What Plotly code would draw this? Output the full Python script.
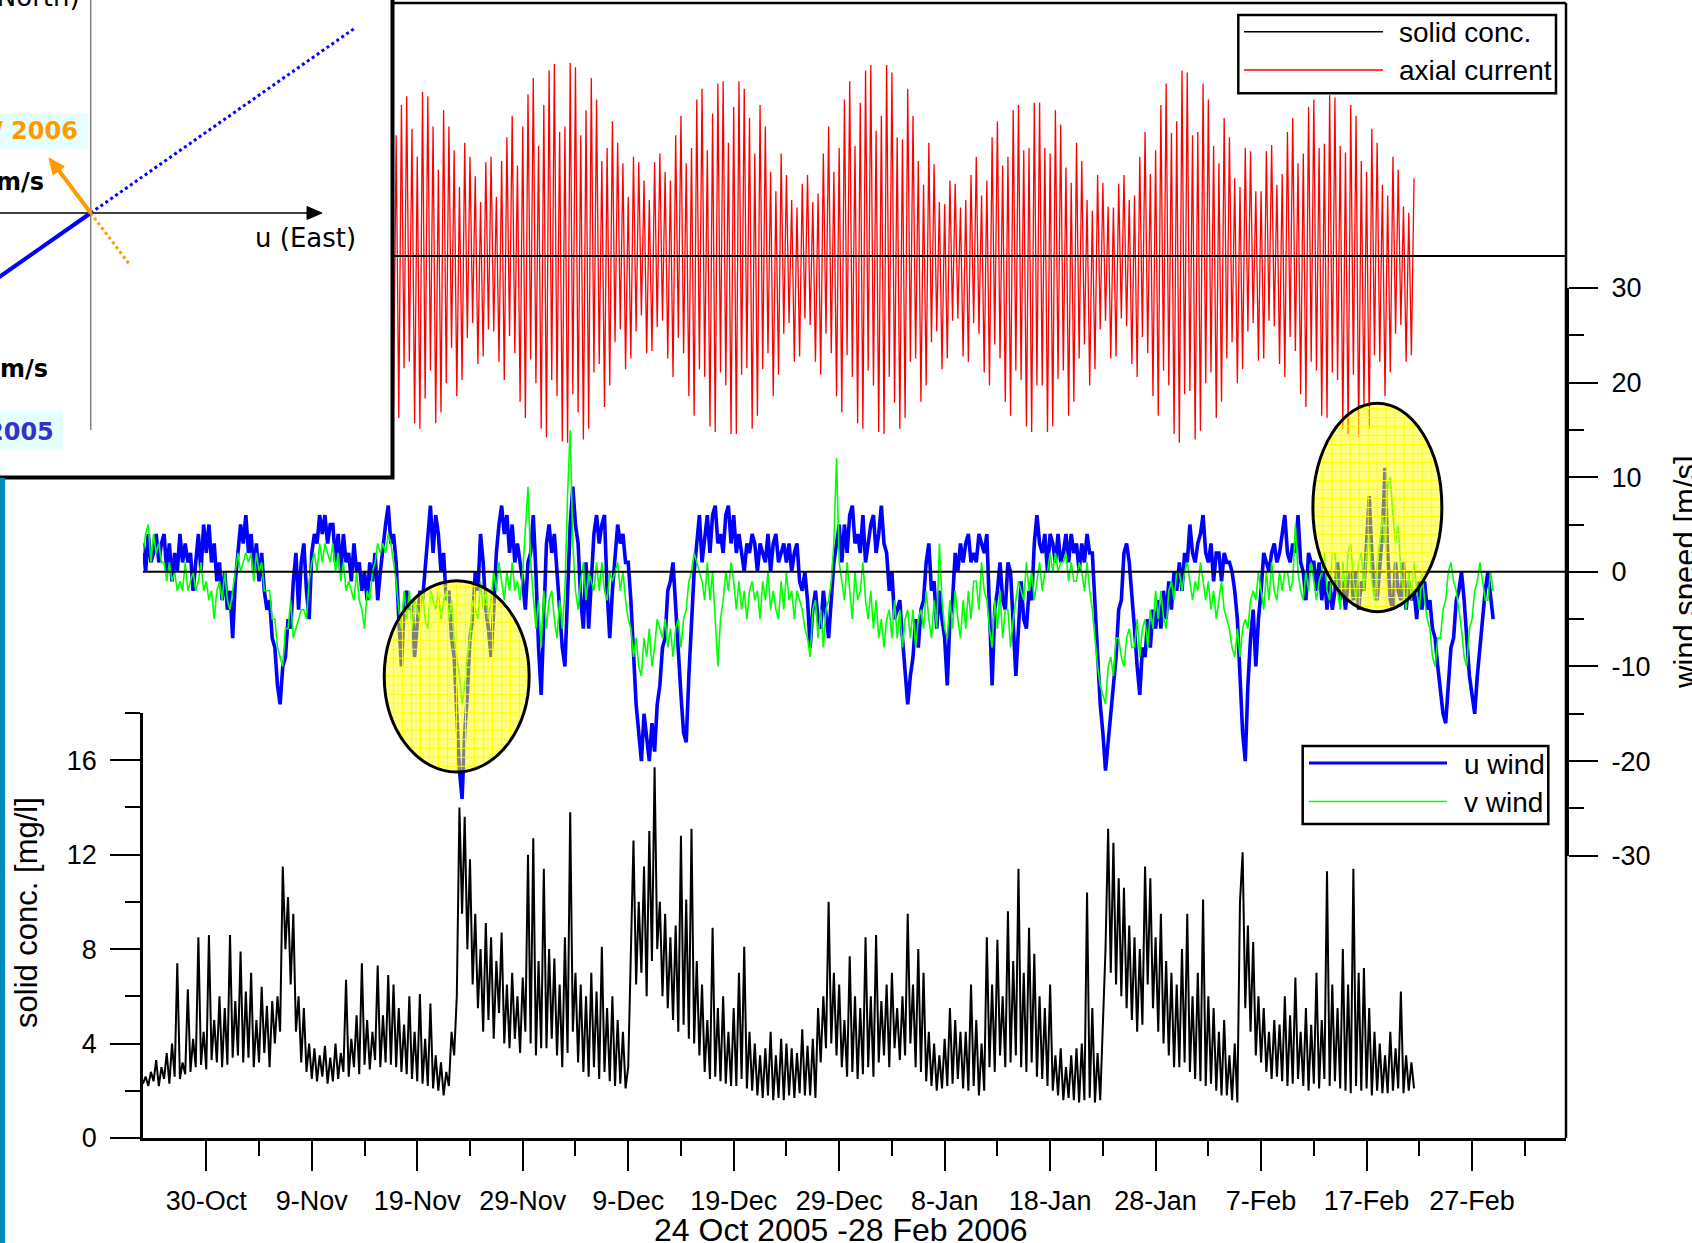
import math
import plotly.graph_objects as go
import pandas as pd

# ---------------- data (6-hourly samples) ----------------
START = "2005-10-24 00:00"
AXIAL_START = "2005-11-16 00:00"
STEP = "6h"

u_wind = [
 3,0,4,1, 2,4,1,3, 4,0,3,-1, 2,0,4,1, 3,1,2,-2, 1,4,0,5, 2,5,1,3, -1,1,-3,0,
 -4,-2,-7,-1, 2,5,3,6, 2,4,0,3, -1,2,-2,-4, -3,-7,-8,-12, -14,-10,-9,-5, -6,-1,2,-4, 1,3,-2,-5,
 2,4,3,6, 4,6,3,5, 5,1,4,0, 4,1,2,-1, 3,0,1,-2, 0,-3,1,-1, 2,-3,0,3, 5,7,3,4,
 1,-5,-10,-4, -2,-4,-3,-9, -5,-2,-3,0, 3,7,2,6, 4,0,2,-3, -2,-7,-9,-16, -21,-24,-17,-13, -7,-5,0,-2,
 4,1,-4,-6, -9,-4,2,5, 7,4,6,2, 5,1,3,1, -1,-4,1,2, 6,0,-8,-13, -4,3,5,2, 4,0,-4,-8,
 -10,-2,5,9, 5,3,-3,-6, 1,-6,-1,4, 6,3,5,6, -2,-7,-2,2, 5,3,4,1, 1,-3,-9,-14, -17,-20,-15,-18,
 -20,-16,-19,-14, -12,-8,-7,-2, -1,1,-4,-9, -13,-17,-18,-11, -6,0,3,6, 1,4,6,2, 6,7,3,4, 2,6,7,3,
 6,2,4,2, 0,3,2,4, 3,0,3,2, 1,4,0,3, 4,1,2,3, 1,3,0,2, 3,-1,-2,0, -3,-8,-4,-2,
 -5,-6,-2,-5, -7,-3,1,3, 5,1,5,2, 6,7,3,4, 2,6,1,3, 5,6,2,4, 7,3,2,-2, 0,-5,-4,-3,
 -7,-10,-14,-11, -9,-5,-8,-4, -3,1,3,-2, -1,-6,-2,-5, -7,-12,-5,-3, 2,0,3,1, 3,4,1,2, 1,4,3,2,
 4,-3,-12,-4, -2,1,-3,-4, 1,0,-5,-11, -6,-1,-5,-6, -2,-3,3,6, 3,2,4,0, 4,3,1,4, 1,2,4,1,
 4,2,3,0, 3,1,4,2, 2,-3,-8,-14, -17,-21,-18,-15, -11,-9,-4,-3, 2,3,1,-2, -6,-10,-13,-8, -9,-5,-8,-4,
 -6,-3,-6,-2, -5,-1,-4,0, -2,1,-2,2, 1,5,2,1, 3,4,6,2, 1,3,-1,2, 2,-1,2,1, 1,0,-2,-5,
 -11,-17,-20,-12, -7,-4,-10,-5, -2,2,1,0, 2,3,1,2, 4,6,2,1, 3,2,6,1, 0,-3,2,1, 1,-2,1,-3,
 0,-4,-1,-4, -2,1,-3,-1, -4,-1,0,-3, 0,-4,-1,-2, 3,8,2,-2, -3,1,4,11, 2,-3,-4,1, -2,-3,1,-4,
 -1,-3,-2,-5, -1,-4,-1,-4, -3,-6,-7,-10, -13,-15,-16,-12, -8,-7,-3,-2, 0,-3,-7,-11, -13,-15,-11,-8, -4,-2,0,-3,
 -5,
]

v_wind = [
 2,4,5,1, 4,2,3,1, 1,-1,1,-1, 0,-2,-1,-2, 1,-2,-1,0, -2,-1,1,-2, -1,-3,-2,-5, -2,-1,-3,0,
 -3,-4,-2,0, 2,0,1,2, 1,2,-1,2, 0,1,-2,-2, -2,-5,-5,-8, -9,-10,-6,-6, -3,-7,-6,-5, -4,-4,-5,-1,
 1,2,0,3, 1,3,2,1, 3,0,2,-1, 1,-2,-1,-2, -3,0,-3,-4, -6,-2,-3,0, 1,3,2,3, 2,4,3,1,
 -1,-4,-6,-2, -5,-2,-6,-3, -4,-5,-2,-5, -6,-2,-3,-4, -2,-5,-3,-2, -5,-3,-7,-9, -11,-14,-12,-9, -7,-3,-4,-5,
 -1,-4,-2,-5, -3,0,-2,1, -1,-3,0,-2, 1,-2,-1,-3, 0,4,9,1, -3,-6,-3,-8, -2,-6,-3,-2, -5,-7,-3,-6,
 -2,8,15,3, -2,-4,-1,1, -3,0,-1,-2, 1,-2,1,-2, -3,0,-1,0, 1,-2,0,-3, -5,-6,-9,-7, -10,-11,-7,-9,
 -6,-10,-8,-5, -6,-7,-5,-8, -6,-9,-6,-5, -8,-5,-4,-1, 0,2,1,0, -1,-3,1,-3, 0,-5,-10,-5, -3,0,-2,1,
 -1,-4,-1,-4, -2,-5,-2,-1, -3,-2,-5,-1, -3,0,-4,-2, -4,-5,-1,-4, 0,-3,-2,-5, -2,-3,-4,-6, -7,-9,-4,-3,
 -7,-4,-8,-4, -3,-1,3,12, 1,-1,-3,1, -2,-5,0,-3, -2,1,-3,-5, -2,-6,-3,-7, -5,-8,-5,-4, -7,-3,-7,-4,
 -8,-5,-4,-7, -4,-8,-5,-4, -6,-2,-5,-7, -3,-6,3,-3, -6,-7,-3,-6, -2,-5,-7,-3, -6,-2,-5,-1, -1,-4,1,-2,
 -3,-6,-8,-3, -6,-2,-7,-4, -4,-8,-5,-3, -1,-2,-3,1, -2,0,-3,-1, 1,-2,0,0, 2,0,2,0, 1,1,2,-1,
 1,-1,-1,1, 0,-2,1,-2, -4,-7,-10,-12, -13,-14,-10,-9, -11,-7,-7,-9, -10,-7,-6,-8, -8,-5,-9,-6, -5,-8,-4,-6,
 -2,-5,-2,-5, -6,-2,-1,-3, 0,0,-2,0, 1,-1,-3,-1, -2,1,-1,-3, -1,-4,-2,-5, -3,-1,-4,-5, -6,-8,-9,-6,
 -9,-6,-5,-6, -3,-2,-3,0, -2,-4,0,-3, 1,-2,-3,0, -2,0,0,-2, -1,5,0,-2, -3,0,-2,1, -1,-3,-1,0,
 2,-2,-3,2, 2,-2,-4,1, -2,2,3,-1, -3,1,2,-2, 2,4,-1,-3, 1,3,6,3, 9,10,6,3, 5,0,-2,-4,
 0,-3,1,-2, -4,0,-3,-5, -6,-9,-10,-7, -7,-4,-3,0, 1,-1,-2,-4, -6,-9,-10,-6, -5,-2,-1,1, -1,-3,-3,0,
 -2,
]

solid_conc = [
 2.3,2.6,2.2,2.8, 2.4,3.3,2.2,3.0, 2.5,3.6,2.3,4.0, 2.6,7.4,2.5,3.2, 2.7,6.3,2.8,4.2, 3.0,8.5,3.1,4.5,
 2.9,8.6,3.3,5.0, 3.2,6.0,3.0,5.5, 3.1,8.6,3.4,5.8, 3.5,7.9,3.2,6.2, 3.4,7.0,3.0,5.0, 3.2,6.4,3.6,5.6,
 3.0,5.8,4.0,6.0, 4.5,11.5,8.0,10.2, 6.5,9.5,4.5,6.0, 3.2,5.5,2.8,4.0, 2.5,3.8,2.4,3.5, 2.6,3.9,2.3,3.4,
 2.4,4.0,2.5,3.6, 2.8,6.7,2.6,4.2, 3.0,5.2,2.7,7.4, 3.1,5.0,2.9,4.5, 3.3,7.3,3.0,5.2, 3.2,6.9,3.1,6.5,
 3.0,5.5,2.8,4.8, 2.7,6.0,2.5,4.5, 2.4,6.1,2.3,4.2, 2.2,5.7,2.1,3.5, 2.0,3.2,1.8,2.8, 2.2,4.5,3.5,6.0,
 14.0,9.5,13.6,8.0, 11.8,6.5,9.5,5.5, 8.0,4.5,9.1,5.0, 8.5,4.2,7.5,5.3, 8.7,4.0,6.5,3.8, 7.0,4.2,6.0,3.6,
 6.8,4.5,12.0,4.0, 12.7,3.5,7.5,3.8, 11.4,3.8,8.0,4.2, 7.6,3.5,6.5,3.0, 8.5,3.6,13.8,4.5, 7.0,3.2,6.5,2.8,
 6.0,2.6,7.0,3.0, 6.2,2.5,8.1,2.8, 5.5,2.4,6.0,2.2, 5.0,2.3,4.5,2.1, 3.0,8.5,12.6,6.5, 10.0,7.0,11.5,6.0,
 13.0,7.5,15.7,8.0, 10.0,6.0,9.5,5.5, 8.5,5.0,9.0,4.5, 12.8,4.8,10.1,4.2, 13.1,4.0,7.5,3.5, 6.5,2.8,5.0,2.5,
 8.9,2.6,5.5,2.4, 6.0,2.3,4.5,2.2, 5.5,2.2,7.0,2.5, 8.1,2.1,4.5,2.0, 4.0,1.8,3.5,1.7, 3.8,1.8,4.5,1.6,
 3.5,1.7,4.2,1.6, 4.0,1.8,3.8,1.7, 3.6,1.9,4.6,1.8, 3.9,1.8,4.2,1.7, 5.5,3.2,6.0,3.8, 10.0,4.0,7.0,3.5,
 6.5,3.0,5.0,2.6, 7.7,2.8,6.0,2.5, 5.5,2.7,8.5,3.0, 6.0,2.6,8.6,3.2, 5.8,3.5,6.5,3.0, 7.0,3.8,5.5,3.3,
 6.0,3.5,9.5,4.0, 6.5,3.0,8.0,2.8, 7.0,2.4,4.5,2.2, 4.0,2.0,3.5,2.1, 4.2,2.2,5.5,2.3, 5.0,2.5,4.5,2.1,
 4.5,2.0,6.5,2.2, 5.0,1.8,4.0,2.0, 8.5,3.0,6.5,2.8, 8.4,3.5,6.0,3.0, 9.6,3.2,7.5,3.5, 11.4,3.0,7.0,2.8,
 8.9,3.2,7.8,2.6, 6.0,2.5,5.5,2.2, 6.5,2.0,3.5,1.8, 3.8,1.6,3.0,1.7, 3.5,1.6,3.8,1.5, 4.0,1.6,10.4,1.7,
 5.5,1.5,3.6,1.6, 4.5,8.0,13.1,7.0, 12.5,6.5,11.0,6.0, 10.6,5.5,9.0,5.0, 8.5,4.5,8.0,4.8, 11.5,6.5,11.0,5.5,
 8.5,4.5,9.5,4.0, 7.5,3.5,7.0,3.0, 6.5,3.0,8.0,3.2, 9.5,2.8,6.0,2.5, 7.0,2.4,10.1,2.2, 6.0,2.3,5.5,2.0,
 4.5,1.8,5.0,1.8, 3.5,1.6,4.0,1.5, 10.0,12.1,5.5,9.0, 4.5,8.3,3.5,6.0, 3.2,5.5,2.8,4.5, 2.5,5.0,2.6,4.8,
 2.4,6.0,2.2,5.2, 2.3,6.8,2.5,4.5, 2.2,5.5,2.0,4.8, 2.3,7.0,2.1,5.0, 2.5,11.3,2.2,6.5, 2.4,5.5,2.1,8.0,
 2.0,6.5,1.9,11.4, 2.2,7.0,2.0,7.2, 2.1,5.5,1.8,4.5, 2.0,4.0,1.9,3.5, 1.9,4.5,2.0,3.8, 2.1,6.2,1.9,3.5,
 2.0,3.2,2.1,
]

axial_current = [
 130,-120,84,-140, 112,-150,140,-104, 148,-98,118,-155, 92,-160,152,-132, 148,-106,120,-155,
 80,-145,135,-118, 120,-85,98,-130, 64,-115,105,-76, 92,-62,74,-100, 50,-93,87,-68,
 92,-70,55,-98, 88,-115,110,-74, 130,-90,84,-135, 120,-150,150,-96, 165,-118,102,-160,
 140,-168,172,-115, 178,-130,115,-172, 120,-173,179,-128, 175,-145,112,-170, 135,-160,165,-108,
 145,-100,88,-140, 100,-120,125,-80, 105,-68,86,-105, 55,-95,92,-70, 87,-55,70,-90,
 52,-88,87,-66, 95,-60,78,-95, 70,-112,112,-76, 130,-90,86,-130, 100,-148,145,-105,
 155,-112,98,-158, 132,-163,160,-108, 162,-120,105,-165, 138,-165,162,-110, 155,-104,128,-160,
 95,-148,140,-105, 120,-90,78,-130, 60,-110,95,-72, 75,-62,52,-98, 45,-93,67,-58,
 75,-64,50,-98, 58,-110,95,-72, 120,-90,78,-130, 100,-145,145,-92, 162,-112,102,-155,
 142,-160,172,-106, 177,-120,116,-163, 130,-165,177,-112, 170,-136,110,-160, 108,-150,155,-98,
 130,-95,88,-135, 66,-120,105,-80, 85,-70,50,-105, 48,-95,70,-60, 67,-58,45,-93,
 52,-98,75,-62, 92,-72,56,-108, 70,-120,110,-82, 125,-95,84,-135, 92,-148,135,-106,
 140,-115,98,-158, 100,-163,142,-120, 142,-120,100,-163, 95,-158,135,-114, 122,-106,82,-148,
 68,-135,105,-95, 88,-82,52,-120, 42,-105,75,-68, 68,-60,46,-95, 45,-93,67,-58,
 75,-65,52,-100, 56,-112,92,-75, 115,-90,76,-130, 98,-148,140,-106, 160,-120,114,-165,
 125,-173,172,-128, 170,-125,112,-170, 115,-162,160,-118, 145,-108,102,-150, 86,-135,128,-95,
 110,-80,72,-118, 64,-105,100,-70, 97,-62,60,-97, 60,-95,97,-60, 103,-65,66,-100,
 76,-112,115,-75, 128,-88,86,-128, 95,-140,138,-98, 145,-106,100,-148, 104,-150,149,-108,
 147,-115,102,-160, 96,-165,140,-110, 130,-168,88,-140, 78,-160,118,-92, 105,-98,66,-130,
 56,-108,92,-72, 80,-64,46,-98, 40,-92,72,
]

tick_dates = ["2005-10-30", "2005-11-09", "2005-11-19", "2005-11-29", "2005-12-09",
              "2005-12-19", "2005-12-29", "2006-01-08", "2006-01-18", "2006-01-28",
              "2006-02-07", "2006-02-17", "2006-02-27"]
tick_labels = ["30-Oct", "9-Nov", "19-Nov", "29-Nov", "9-Dec", "19-Dec", "29-Dec",
               "8-Jan", "18-Jan", "28-Jan", "7-Feb", "17-Feb", "27-Feb"]
minor_dates = ["2005-11-04", "2005-11-14", "2005-11-24", "2005-12-04", "2005-12-14",
               "2005-12-24", "2006-01-03", "2006-01-13", "2006-01-23", "2006-02-02",
               "2006-02-12", "2006-02-22", "2006-03-04"]
conc_ticks = [0, 4, 8, 12, 16]
conc_labels = ["0", "4", "8", "12", "16"]
wind_ticks = [-30, -20, -10, 0, 10, 20, 30]
wind_labels = ["-30", "-20", "-10", "0", "10", "20", "30"]

# ---------------- geometry ----------------
W, H = 1692, 1243
L, R, T, B = 143, 126, 3, 105
PW, PH = W - L - R, H - T - B
PX_PER_DAY = 10.548
x_start = pd.Timestamp(START)
x_end = x_start + pd.Timedelta(days=PW / PX_PER_DAY)

def px(x):
    return (x - L) / PW

def py(y):
    return (H - B - y) / PH

def day(d):
    return (x_start + pd.Timedelta(days=d)).strftime("%Y-%m-%d %H:%M:%S")

FONT = "Liberation Sans, Arial, sans-serif"
IFONT = "DejaVu Sans, Verdana, sans-serif"

t_wind = pd.date_range(START, periods=len(u_wind), freq=STEP)
t_conc = pd.date_range(START, periods=len(solid_conc), freq=STEP)
t_axial = pd.date_range(AXIAL_START, periods=len(axial_current), freq=STEP)

fig = go.Figure()
fig.add_trace(go.Scatter(x=t_axial, y=axial_current, yaxis="y3", mode="lines",
                         line=dict(color="#FF0000", width=1.3), name="axial current"))
fig.add_trace(go.Scatter(x=t_wind, y=u_wind, yaxis="y2", mode="lines",
                         line=dict(color="#0000FF", width=3.6), name="u wind"))
fig.add_trace(go.Scatter(x=t_wind, y=v_wind, yaxis="y2", mode="lines",
                         line=dict(color="#00FF00", width=1.6), name="v wind"))
fig.add_trace(go.Scatter(x=t_conc, y=solid_conc, yaxis="y", mode="lines",
                         line=dict(color="black", width=2.0), name="solid conc."))

tickfont = dict(family=FONT, size=27, color="black")

fig.update_layout(
    width=W, height=H, autosize=False,
    margin=dict(l=L, r=R, t=T, b=B, autoexpand=False),
    paper_bgcolor="white", plot_bgcolor="rgba(0,0,0,0)",
    showlegend=False,
    xaxis=dict(type="date", range=[x_start, x_end], anchor="y", automargin=False,
               showline=True, linecolor="black", linewidth=2.5,
               ticks="outside", ticklen=30, tickwidth=2, tickcolor="black",
               tickmode="array", tickvals=tick_dates, ticktext=tick_labels,
               tickfont=tickfont, ticklabelstandoff=7,
               minor=dict(tickmode="array", tickvals=minor_dates, ticks="outside",
                          ticklen=15, tickwidth=2, tickcolor="black"),
               showgrid=False, zeroline=False),
    yaxis=dict(domain=[0, py(713)], range=[0, 18], anchor="x", automargin=False,
               showline=True, linecolor="black", linewidth=2.5,
               ticks="outside", ticklen=30, tickwidth=2, tickcolor="black",
               tickmode="array", tickvals=conc_ticks, ticktext=conc_labels,
               tickfont=tickfont, ticklabelstandoff=8,
               minor=dict(tick0=0, dtick=2, ticks="outside", ticklen=15,
                          tickwidth=2, tickcolor="black"),
               showgrid=False, zeroline=False),
    yaxis2=dict(domain=[py(855.7), py(288)], range=[-30, 30], anchor="x", side="right",
                automargin=False,
                showline=True, linecolor="black", linewidth=3,
                ticks="outside", ticklen=29, tickwidth=2, tickcolor="black",
                tickmode="array", tickvals=wind_ticks, ticktext=wind_labels,
                tickfont=tickfont, ticklabelstandoff=8,
                minor=dict(tick0=0, dtick=5, ticks="outside", ticklen=15,
                           tickwidth=2, tickcolor="black"),
                showgrid=False, zeroline=False),
    yaxis3=dict(domain=[0, 1], range=[-817.4, 234.5], anchor="x", visible=False,
                automargin=False),
)

shapes = []
def line_px(x0, y0, x1, y1, color="black", width=2, dash="solid"):
    shapes.append(dict(type="line", xref="paper", yref="paper",
                       x0=px(x0), y0=py(y0), x1=px(x1), y1=py(y1),
                       line=dict(color=color, width=width, dash=dash), layer="above"))

def rect_px(x0, y0, x1, y1, fill="white", color="black", width=2):
    shapes.append(dict(type="rect", xref="paper", yref="paper",
                       x0=px(x0), y0=py(y0), x1=px(x1), y1=py(y1), fillcolor=fill,
                       line=dict(color=color, width=width), layer="above"))

def tri_px(pts, color):
    p = "M " + " L ".join(f"{px(a):.5f},{py(b):.5f}" for a, b in pts) + " Z"
    shapes.append(dict(type="path", xref="paper", yref="paper", path=p,
                       fillcolor=color, line=dict(color=color, width=1), layer="above"))

# zero lines
shapes.append(dict(type="line", xref="paper", yref="y2", x0=0, x1=1, y0=0, y1=0,
                   line=dict(color="black", width=2), layer="above"))
shapes.append(dict(type="line", xref="paper", yref="y3", x0=px(392), x1=1, y0=0, y1=0,
                   line=dict(color="black", width=2), layer="above"))

# highlight ellipses (semi-transparent yellow with a fine grid)
ellipses = [(22.87, 36.61, -21.15, -0.93, 456.5, 676.3, 72.5, 95.7),
            (110.91, 123.14, -4.21, 17.82, 1377.2, 507.5, 64.5, 104.2)]
for d0, d1, w0, w1, cx, cy, rx, ry in ellipses:
    shapes.append(dict(type="circle", xref="x", yref="y2", x0=day(d0), x1=day(d1),
                       y0=w0, y1=w1, fillcolor="rgba(255,255,0,0.5)",
                       line=dict(color="black", width=0), layer="above"))
    step = 9.0
    n = int(rx // step)
    for i in range(-n, n + 1):
        xx = cx + i * step
        t = 1 - ((xx - cx) / rx) ** 2
        if t > 0.01:
            hh = ry * math.sqrt(t)
            line_px(xx, cy - hh, xx, cy + hh, color="rgba(255,255,0,0.9)", width=1)
    n = int(ry // step)
    for i in range(-n, n + 1):
        yy = cy + i * step
        t = 1 - ((yy - cy) / ry) ** 2
        if t > 0.01:
            ww = rx * math.sqrt(t)
            line_px(cx - ww, yy, cx + ww, yy, color="rgba(255,255,0,0.9)", width=1)
    shapes.append(dict(type="circle", xref="x", yref="y2", x0=day(d0), x1=day(d1),
                       y0=w0, y1=w1, fillcolor="rgba(0,0,0,0)",
                       line=dict(color="black", width=3), layer="above"))

# frame
line_px(392, 3, 1566, 3, width=2.5)
line_px(1566, 3, 1566, 1138, width=2.5)

# inset
rect_px(-10, -10, 392.5, 477.5, fill="white", color="black", width=4)
rect_px(-5, 113, 88, 150, fill="#E6FFFF", color="#E6FFFF", width=0)
rect_px(-5, 412, 63, 449, fill="#E6FFFF", color="#E6FFFF", width=0)
line_px(90.7, -5, 90.7, 430, color="#808080", width=1.5)
line_px(-5, 213, 310, 213, color="black", width=1.5)
tri_px([(307, 206.5), (322, 213), (307, 219.5)], "black")
line_px(90.7, 213, 355, 28, color="#0000FF", width=3, dash="dot")
line_px(90.7, 213, -5, 280, color="#0000FF", width=4)
line_px(90.7, 213, 130, 265, color="#FF9900", width=3, dash="dot")
line_px(90.7, 213, 57, 168, color="#FF9900", width=4)
tri_px([(49, 158), (64.3, 166.6), (53.1, 175.0)], "#FF9900")

# left strip
rect_px(0, 478, 5, 1250, fill="#008CBA", color="#008CBA", width=0)

# legend 1
rect_px(1238.3, 15, 1556, 93.3, fill="white", color="black", width=2.5)
line_px(1244, 31.7, 1383, 31.7, color="black", width=1.5)
line_px(1244, 70, 1383, 70, color="#FF0000", width=1.5)
# legend 2
rect_px(1302.7, 746, 1548.3, 824, fill="white", color="black", width=2.5)
line_px(1309, 763, 1447, 763, color="#0000FF", width=3)
line_px(1309, 801.5, 1447, 801.5, color="#00FF00", width=1.5)

fig.update_layout(shapes=shapes)

ann = []
def text_px(x, y, s, size=28, family=FONT, color="black", xanchor="left", angle=0, bold=False):
    if bold:
        s = "<b>" + s + "</b>"
    ann.append(dict(x=px(x), y=py(y), xref="paper", yref="paper", text=s, showarrow=False,
                    xanchor=xanchor, yanchor="middle", textangle=angle,
                    font=dict(family=family, size=size, color=color)))

text_px(1397, 33, "solid conc.")
text_px(1397, 71, "axial current")
text_px(1462, 764, "u wind")
text_px(1462, 802, "v wind")
text_px(841, 1230, "24 Oct 2005 -28 Feb 2006", size=32, xanchor="center")
text_px(26, 912, "solid conc. [mg/l]", size=31, xanchor="center", angle=-90)
text_px(1685, 572, "wind speed [m/s]", size=31, xanchor="center", angle=-90)
# inset texts
text_px(305, 238, "u (East)", size=26, family=IFONT, xanchor="center")
text_px(82, -3, "v (North)", size=26, family=IFONT, xanchor="right")
text_px(80, 131, "/ 2006", size=24, family=IFONT, color="#FF9900", xanchor="right", bold=True)
text_px(46, 182, "m/s", size=24, family=IFONT, xanchor="right", bold=True)
text_px(50, 369, "m/s", size=24, family=IFONT, xanchor="right", bold=True)
text_px(56, 432, "2005", size=24, family=IFONT, color="#3333CC", xanchor="right", bold=True)

fig.update_layout(annotations=ann)

fig.write_html("out.html", config={"displayModeBar": False},
               post_script="document.body.style.margin='0px';")
